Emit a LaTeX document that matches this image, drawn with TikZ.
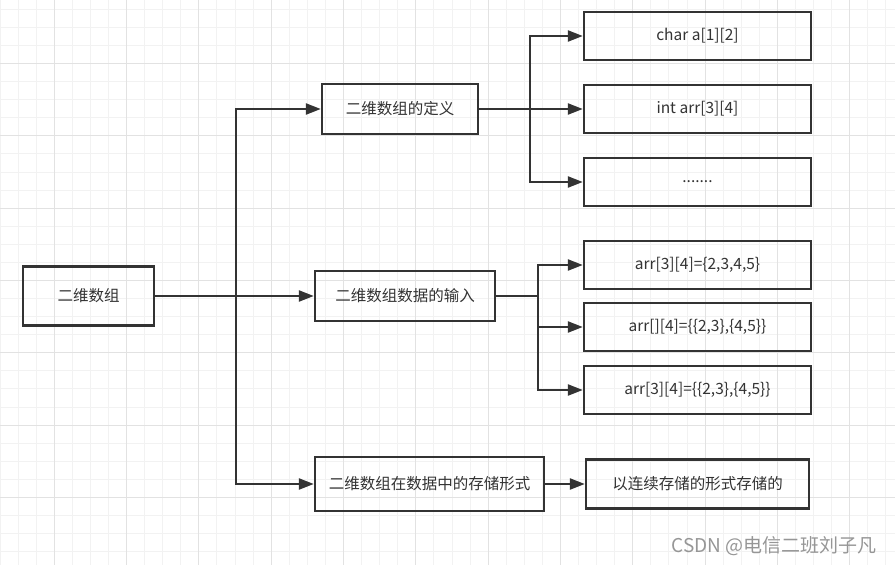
\documentclass[tikz,border=0pt]{standalone}
\usepackage{fontspec}
\setmainfont{Noto Sans CJK SC}
\usetikzlibrary{arrows.meta}
\definecolor{boxline}{RGB}{51,51,51}
\definecolor{gridminor}{RGB}{242,242,242}
\definecolor{gridmajor}{RGB}{226,226,226}
\definecolor{wmgray}{RGB}{150,150,150}

\begin{document}
\begin{tikzpicture}[x=1pt,y=-1pt,
    box/.style={draw=boxline,line width=2.4pt,text=boxline,inner sep=0pt,
        minimum height=48pt,font=\fontsize{15.5}{18}\selectfont},
    arr/.style={draw=boxline,line width=2.4pt,-{Triangle[length=15pt,width=11pt]}},
    link/.style={draw=boxline,line width=2.4pt}]
    % grid paper
    \fill[white] (0,0) rectangle (895,565);
    \useasboundingbox (0,0) rectangle (895,565);
    \foreach \k in {0,...,49}
        \draw[gridminor,line width=1pt] ({\k*18.08},0) -- ({\k*18.08},565);
    \foreach \k in {1,...,31}
        \draw[gridminor,line width=1pt] (0,{\k*18.08-8.8}) -- (895,{\k*18.08-8.8});
    \foreach \k in {3,7,...,47}
        \draw[gridmajor,line width=1pt] ({\k*18.08},0) -- ({\k*18.08},565);
    \foreach \k in {4,8,...,28}
        \draw[gridmajor,line width=1pt] (0,{\k*18.08-8.8}) -- (895,{\k*18.08-8.8});

    % boxes
    \node[box,minimum width=131pt,minimum height=59pt] (root) at (88.5,296) {二维数组};
    \node[box,minimum width=156pt,minimum height=50pt] (def) at (400,109) {二维数组的定义};
    \node[box,minimum width=180pt,minimum height=50pt] (input) at (405,296) {二维数组数据的输入};
    \node[box,minimum width=229pt,minimum height=54pt] (store) at (429.5,484) {二维数组在数据中的存储形式};
    \node[box,minimum width=227pt] (chr) at (697.5,36) {char a[1][2]};
    \node[box,minimum width=227pt] (int) at (697.5,109) {int arr[3][4]};
    \node[box,minimum width=227pt] (dots) at (697.5,182) {.......};
    \node[box,minimum width=227pt] (ina) at (697.5,265) {arr[3][4]=\{2,3,4,5\}};
    \node[box,minimum width=227pt] (inb) at (697.5,327) {arr[][4]=\{\{2,3\},\{4,5\}\}};
    \node[box,minimum width=227pt] (inc) at (697.5,390) {arr[3][4]=\{\{2,3\},\{4,5\}\}};
    \node[box,minimum width=223pt,minimum height=49pt] (cont) at (697.5,484) {以连续存储的形式存储的};

    % junctions
    \coordinate (j1) at (236,296);
    \coordinate (j2) at (530,109);
    \coordinate (j3) at (538,296);

    \draw[link] (root) -- (j1);
    \draw[arr] (j1) |- (def);
    \draw[arr] (j1) -- (input);
    \draw[arr] (j1) |- (store);

    \draw[arr] (def) -- (int);
    \draw[arr] (j2) |- (chr);
    \draw[arr] (j2) |- (dots);

    \draw[link] (input) -- (j3);
    \draw[arr] (j3) |- (ina);
    \draw[arr] (j3) |- (inb);
    \draw[arr] (j3) |- (inc);

    \draw[arr] (store) -- (cont);

    \node[text=wmgray,font=\fontsize{19}{22}\selectfont] (csdn) at (774,546) {CSDN @电信二班刘子凡};
\end{tikzpicture}
\end{document}
